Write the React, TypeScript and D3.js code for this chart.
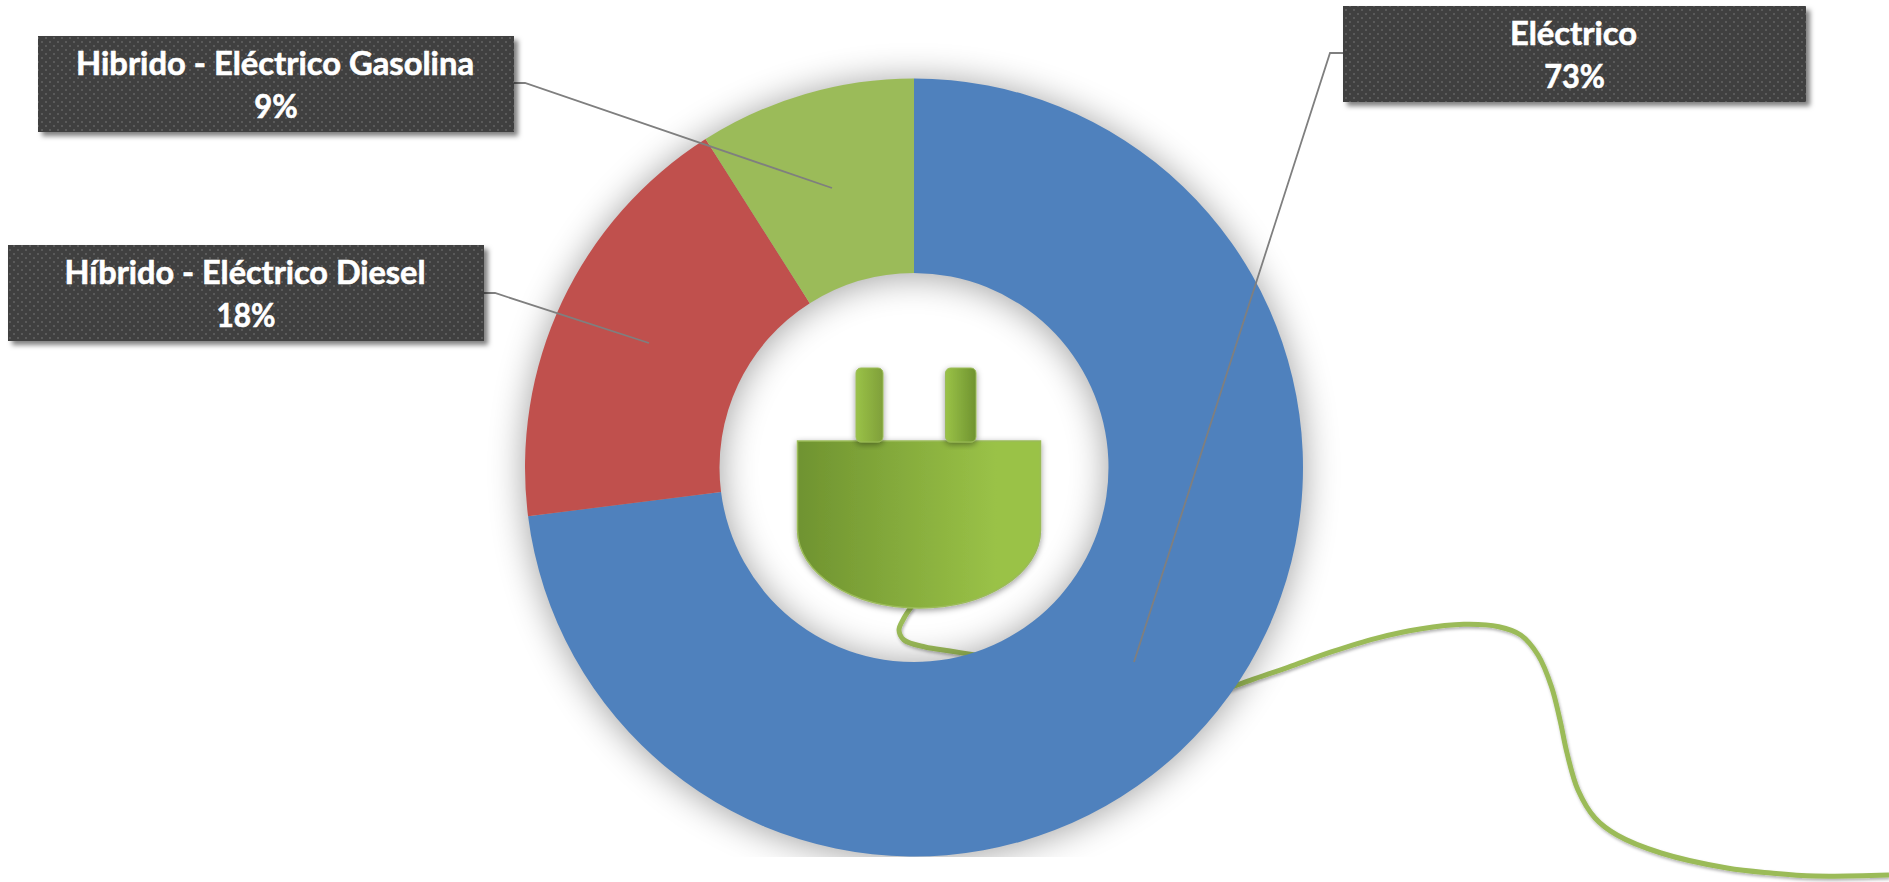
import React from "react";
import * as d3 from "d3";

// ---- data ----
const categories = ["Eléctrico", "Híbrido - Eléctrico Diesel", "Hibrido - Eléctrico Gasolina"];
const shares = [73, 18, 9];
const sliceColors = ["#4F81BD", "#C0504D", "#9BBB59"];

// ---- layout (one entry per category) ----
const boxX = [1343, 8, 38];
const boxY = [6, 245, 36];
const boxW = [463, 476, 476];
const boxH = 96;
const line1Width = [127, 361, 398];
const line2Width = [60.7, 59, 43.5];
const leaderPaths: [number, number][][] = [
  [[1343, 53], [1330, 53], [1134, 662]],
  [[484, 293], [495, 293], [649, 343]],
  [[514, 83], [525, 83], [832, 188]],
];

const W = 1889;
const H = 882;
const cx = 914;
const cy = 467.5;
const outerR = 389;
const innerR = 194.5;
const shadowClipBottom = 857;

// ---- cable ----
const cordOuter: [number, number][] = [
  [1215, 694], [1237.3, 685], [1288, 667.3], [1332, 651.7], [1376, 638.3], [1420, 629], [1463.6, 624.3],
  [1498.8, 626.7], [1520.7, 635], [1538, 655], [1551.5, 686.7], [1560, 720], [1567, 753], [1578, 790],
  [1595, 818], [1617, 835], [1661, 853], [1727, 868], [1771, 873], [1815, 876], [1889, 875],
];
const cordInner: [number, number][] = [
  [912, 606], [904, 618], [899, 630], [904, 640], [925, 647], [950, 651], [975, 655],
];

const pie = d3.pie<number>().sort(null).startAngle(0).endAngle(2 * Math.PI);
const arc = d3.arc<d3.PieArcDatum<number>>().innerRadius(innerR).outerRadius(outerR);
const cordLine = d3.line().curve(d3.curveCatmullRom.alpha(0.5));
const leaderLine = d3.line();

function plugBody() {
  const p = d3.path();
  const l = 797.5, r = 1040.5, t = 441, s = 530, b = 608;
  const mid = (l + r) / 2;
  const k = 0.5523;
  const hw = (r - l) / 2;
  const hh = b - s;
  p.moveTo(l, t);
  p.lineTo(r, t);
  p.lineTo(r, s);
  p.bezierCurveTo(r, s + k * hh, mid + k * hw, b, mid, b);
  p.bezierCurveTo(mid - k * hw, b, l, s + k * hh, l, s);
  p.closePath();
  return p.toString();
}

const font = "Lato, 'Open Sans', sans-serif";

export default function App() {
  const arcs = pie(shares);
  return (
    <svg
      width={W}
      height={H}
      viewBox={`0 0 ${W} ${H}`}
      style={{ position: "absolute", left: 0, top: 0, display: "block", background: "#fff" }}
    >
      <defs>
        <pattern id="dots" width="8" height="8" patternUnits="userSpaceOnUse">
          <rect width="8" height="8" fill="#3f3f3f" />
          <rect x="1" y="1" width="2" height="2" fill="#5a5a5a" />
          <rect x="5" y="5" width="2" height="2" fill="#5a5a5a" />
        </pattern>
        <linearGradient id="bodyGrad" x1="0" x2="1" y1="0" y2="0">
          <stop offset="0" stopColor="#6F9330" />
          <stop offset="0.82" stopColor="#9AC247" />
          <stop offset="1" stopColor="#9AC247" />
        </linearGradient>
        <linearGradient id="pinL" x1="0" x2="1" y1="0" y2="0">
          <stop offset="0" stopColor="#9AC247" />
          <stop offset="1" stopColor="#7F9F3A" />
        </linearGradient>
        <linearGradient id="pinR" x1="0" x2="1" y1="0" y2="0">
          <stop offset="0" stopColor="#9AC247" />
          <stop offset="1" stopColor="#6F9330" />
        </linearGradient>
        <filter id="donutShadow" x="-15%" y="-15%" width="130%" height="130%">
          <feGaussianBlur stdDeviation="18" />
        </filter>
        <filter id="boxShadow" x="-5%" y="-20%" width="110%" height="140%">
          <feDropShadow dx="4" dy="4" stdDeviation="2.5" floodColor="#000" floodOpacity="0.5" />
        </filter>
        <filter id="cordShadow" x="-5%" y="-5%" width="110%" height="110%">
          <feDropShadow dx="1" dy="2" stdDeviation="1.5" floodColor="#000" floodOpacity="0.3" />
        </filter>
        <filter id="plugShadow" x="-10%" y="-10%" width="120%" height="120%">
          <feDropShadow dx="0" dy="2" stdDeviation="3" floodColor="#000" floodOpacity="0.4" />
        </filter>
        <clipPath id="shadowClip">
          <rect x="0" y="0" width={W} height={shadowClipBottom} />
        </clipPath>
      </defs>

      {/* cable, passing behind the ring */}
      <g fill="none" stroke="#9BBB59" strokeWidth="5" filter="url(#cordShadow)">
        <path d={cordLine(cordOuter) ?? ""} />
        <path d={cordLine(cordInner) ?? ""} />
      </g>

      {/* ring shadow, cut off at the picture's lower edge */}
      <g clipPath="url(#shadowClip)">
        <g transform={`translate(${cx},${cy + 2})`} filter="url(#donutShadow)" opacity="0.38">
          {arcs.map((a, i) => (
            <path key={i} d={arc(a) ?? ""} fill="#000" />
          ))}
        </g>
      </g>

      {/* ring */}
      <g transform={`translate(${cx},${cy})`}>
        {arcs.map((a, i) => (
          <path key={i} d={arc(a) ?? ""} fill={sliceColors[i]} />
        ))}
      </g>

      {/* plug */}
      <path d={plugBody()} fill="url(#bodyGrad)" stroke="#9BBB59" strokeWidth="1.5" filter="url(#plugShadow)" />
      <g filter="url(#plugShadow)">
        <rect x="856" y="368" width="27" height="74" rx="5" fill="url(#pinL)" stroke="#9BBB59" strokeWidth="1" />
        <rect x="945.5" y="368" width="30.5" height="74" rx="5" fill="url(#pinR)" stroke="#9BBB59" strokeWidth="1" />
      </g>

      {/* leader lines */}
      {leaderPaths.map((pts, i) => (
        <path key={i} d={leaderLine(pts) ?? ""} fill="none" stroke="#7F7F7F" strokeWidth="1.8" />
      ))}

      {/* label boxes */}
      {categories.map((c, i) => {
        const mx = boxX[i] + boxW[i] / 2;
        const textProps = {
          textAnchor: "middle" as const,
          fontFamily: font,
          fontWeight: 700,
          fontSize: 32,
          fill: "#fff",
          stroke: "#fff",
          strokeWidth: 0.6,
          lengthAdjust: "spacingAndGlyphs" as const,
        };
        return (
          <g key={c}>
            <rect x={boxX[i]} y={boxY[i]} width={boxW[i]} height={boxH} fill="url(#dots)" filter="url(#boxShadow)" />
            <text x={mx - 1} y={boxY[i] + 39} textLength={line1Width[i]} {...textProps}>
              {c}
            </text>
            <text x={mx} y={boxY[i] + 82} textLength={line2Width[i]} {...textProps}>
              {`${shares[i]}%`}
            </text>
          </g>
        );
      })}
    </svg>
  );
}
